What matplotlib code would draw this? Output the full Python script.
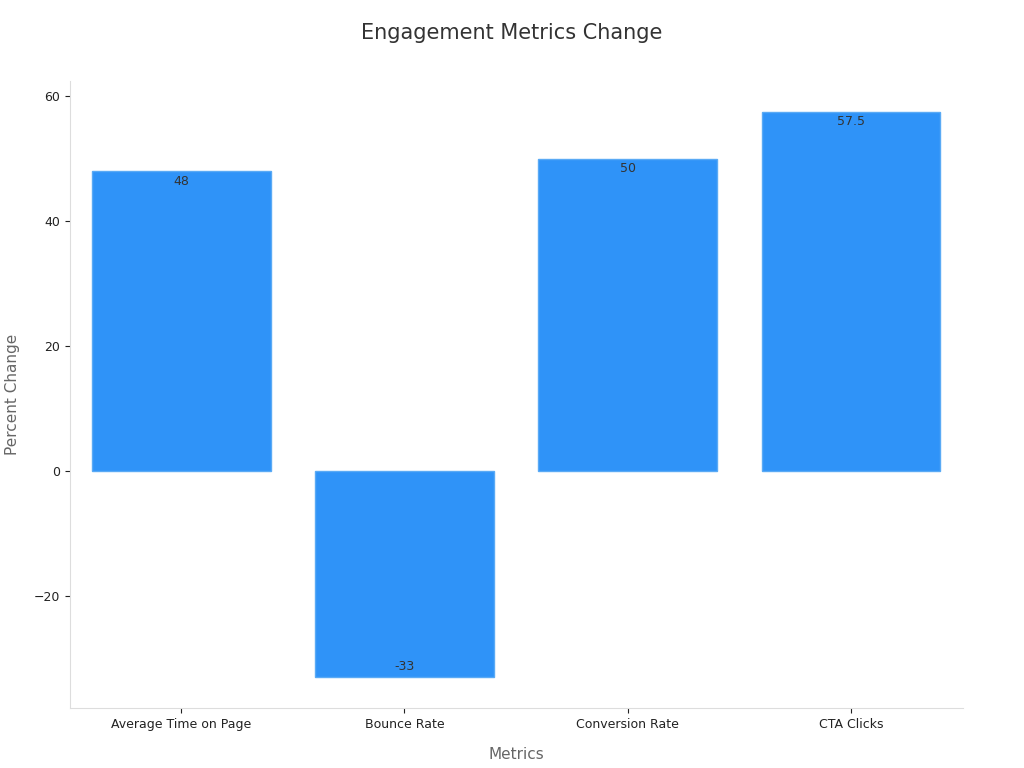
import matplotlib
matplotlib.use("Agg")
import matplotlib.pyplot as plt

metrics = ["Average Time on Page", "Bounce Rate", "Conversion Rate", "CTA Clicks"]
changes = [48, -33, 50, 57.5]
labels = ["48", "-33", "50", "57.5"]

fig, ax = plt.subplots(figsize=(10.24, 7.68), dpi=100)
fig.subplots_adjust(left=0.068, right=0.94, top=0.895, bottom=0.078)

bars = ax.bar(metrics, changes, width=0.8, color="#2f93f8", edgecolor="#5aaaf5", linewidth=1)
for b, v, t in zip(bars, changes, labels):
    y = v - 1.6 if v > 0 else v + 1.6
    ax.text(b.get_x() + b.get_width() / 2, y, t, ha="center",
            va="center", fontsize=9, color="#333333")

ax.set_ylim(-38, 62.5)
ax.set_xlim(-0.5, 3.5)
ax.set_yticks([-20, 0, 20, 40, 60])
ax.set_yticklabels(["\u221220", "0", "20", "40", "60"])
ax.tick_params(labelsize=9, colors="#222222")
for s in ["top", "right"]:
    ax.spines[s].set_visible(False)
for s in ["left", "bottom"]:
    ax.spines[s].set_color("#dddddd")
ax.set_xlabel("Metrics", fontsize=11, color="#666666", labelpad=12)
ax.set_ylabel("Percent Change", fontsize=11, color="#666666", labelpad=10)
fig.suptitle("Engagement Metrics Change", fontsize=15, color="#333333", y=0.97)

fig.savefig("out.png")
